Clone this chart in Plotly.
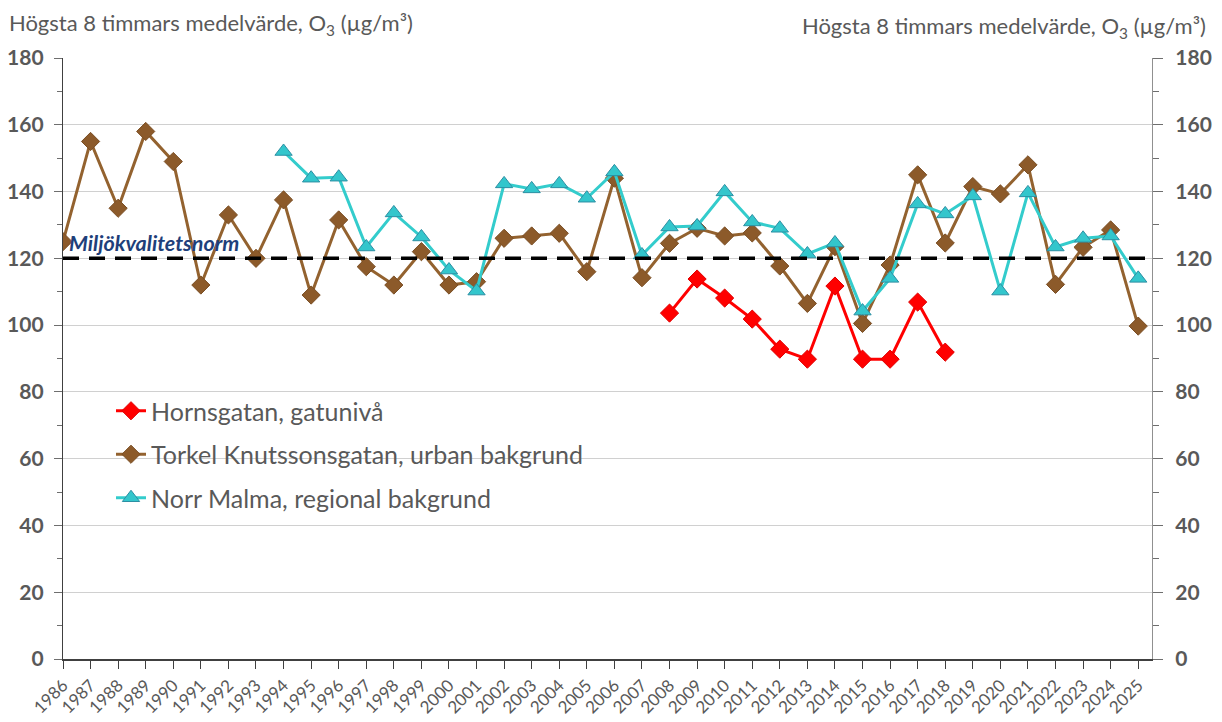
import plotly.graph_objects as go

years = list(range(1986, 2026))

hornsgatan_years = list(range(2008, 2019))
hornsgatan = [103.6, 113.8, 108.1, 101.8, 92.8, 89.8, 111.7, 89.8, 89.8, 106.9, 91.9]

torkel = [125, 155, 135, 158, 149, 112, 133, 120, 137.5, 109, 131.5, 117.5, 112, 122,
          112, 113, 126, 126.7, 127.5, 116, 144, 114.2, 124.5, 129, 126.7, 127.6,
          117.7, 106.5, 123.5, 100.5, 118, 145, 124.6, 141.5, 139.3, 148, 112.2,
          123.3, 128.5, 99.7]

malma_years = list(range(1994, 2026))
malma = [152, 144, 144.3, 123.4, 133.6, 126.4, 116.5, 110.2, 142.3, 140.8, 142.3, 138,
         145.9, 121, 129.4, 129.7, 139.9, 130.9, 129, 121.3, 124.6, 104.2, 114, 136.3,
         133.3, 138.7, 110.2, 139.6, 123.4, 126, 126.7, 114]

norm_value = 120
norm_label = "Miljökvalitetsnorm"
y_title = "Högsta 8 timmars medelvärde, O<sub>3</sub> (µg/m³)"
names = ["Hornsgatan, gatunivå", "Torkel Knutssonsgatan, urban bakgrund",
         "Norr Malma, regional bakgrund"]

FONT = "Lato"
GRAY = "#595959"
ML, MT, PW, PH = 55, 50, 1089, 601

fig = go.Figure()
fig.add_trace(go.Scatter(
    x=hornsgatan_years, y=hornsgatan, name=names[0], mode="lines+markers",
    line=dict(color="#FF0000", width=3), legendgroup="a",
    marker=dict(symbol="diamond", size=14, color="#FF0000",
                line=dict(color="#E00000", width=1))))
fig.add_trace(go.Scatter(
    x=years, y=torkel, name=names[1], mode="lines+markers",
    line=dict(color="#93622F", width=3), legendgroup="b",
    marker=dict(symbol="diamond", size=14, color="#8C5A2A",
                line=dict(color="#7A4E24", width=1))))
fig.add_trace(go.Scatter(
    x=malma_years, y=malma, name=names[2], mode="lines+markers",
    line=dict(color="#33CCCC", width=3), legendgroup="c",
    marker=dict(symbol="triangle-up", size=15, color="#33C6CC",
                line=dict(color="#2C8FA3", width=1))))
fig.add_trace(go.Scatter(x=[years[0]], y=[None], yaxis="y2", showlegend=False, hoverinfo="skip"))

fig.add_shape(type="line", xref="paper", x0=0, x1=1, yref="y", y0=norm_value, y1=norm_value,
              line=dict(color="black", width=3.5, dash="16px,10px"), layer="above")

# white backing box behind the legend (covers gridlines like the original legend frame)
fig.add_shape(type="rect", xref="paper", yref="paper",
              x0=42 / PW, x1=552 / PW, y0=144 / PH, y1=259 / PH,
              fillcolor="white", line=dict(width=0), layer="between")

fig.add_annotation(x=4 / PW, xref="paper", y=norm_value, yref="y", text="<b><i>" + norm_label + "</i></b>",
                   showarrow=False, xanchor="left", yanchor="bottom", yshift=0,
                   font=dict(family=FONT, size=21.5, color="#1F3F7A"))

fig.add_annotation(x=-ML / PW, xref="paper", y=1 + MT / PH, yref="paper", text=y_title,
                   showarrow=False, xanchor="left", yanchor="top", borderpad=0,
                   font=dict(family=FONT, size=22, color=GRAY))
fig.add_annotation(x=1 + 55 / PW, xref="paper", y=1 + (MT - 3) / PH, yref="paper", text=y_title,
                   showarrow=False, xanchor="right", yanchor="top", borderpad=0,
                   font=dict(family=FONT, size=22, color=GRAY))

def yaxis_cfg(ticklen, standoff, minorlen, linecolor):
    return dict(range=[0, 180], dtick=20, tick0=0, ticks="outside", ticklen=ticklen,
                tickcolor="#6E6E6E", automargin=False, ticklabelstandoff=standoff,
                tickfont=dict(family=FONT, size=21, color=GRAY, weight="bold"),
                minor=dict(dtick=10, ticks="outside", ticklen=minorlen, tickcolor="#6E6E6E",
                           showgrid=False),
                zeroline=False, showline=True, linecolor=linecolor, linewidth=1.3)

fig.update_layout(
    width=1222, height=722,
    margin=dict(l=ML, r=1222 - ML - PW, t=MT, b=722 - MT - PH, autoexpand=False),
    paper_bgcolor="white", plot_bgcolor="white",
    font=dict(family=FONT, color=GRAY),
    showlegend=True,
    legend=dict(x=48 / PW, y=271 / PH, xanchor="left", yanchor="top",
                bgcolor="rgba(0,0,0,0)", tracegroupgap=8,
                font=dict(family=FONT, size=25, color=GRAY)),
    xaxis=dict(range=[1986, 2025.5], tickvals=years, ticktext=[str(y) for y in years],
               tickangle=-45, ticks="outside", ticklen=8, tickcolor="#404040",
               showline=True, linecolor="#404040", linewidth=1.5, showgrid=False,
               zeroline=False, automargin=False,
               tickfont=dict(family=FONT, size=17, color=GRAY)),
    yaxis=dict(**yaxis_cfg(8, 6, 5, "#404040"),
               showgrid=True, gridcolor="#D0D0D0", gridwidth=1),
    yaxis2=dict(**yaxis_cfg(10, 8, 6, "#909090"), overlaying="y", side="right", showgrid=False),
)

fig.write_html("out.html")
